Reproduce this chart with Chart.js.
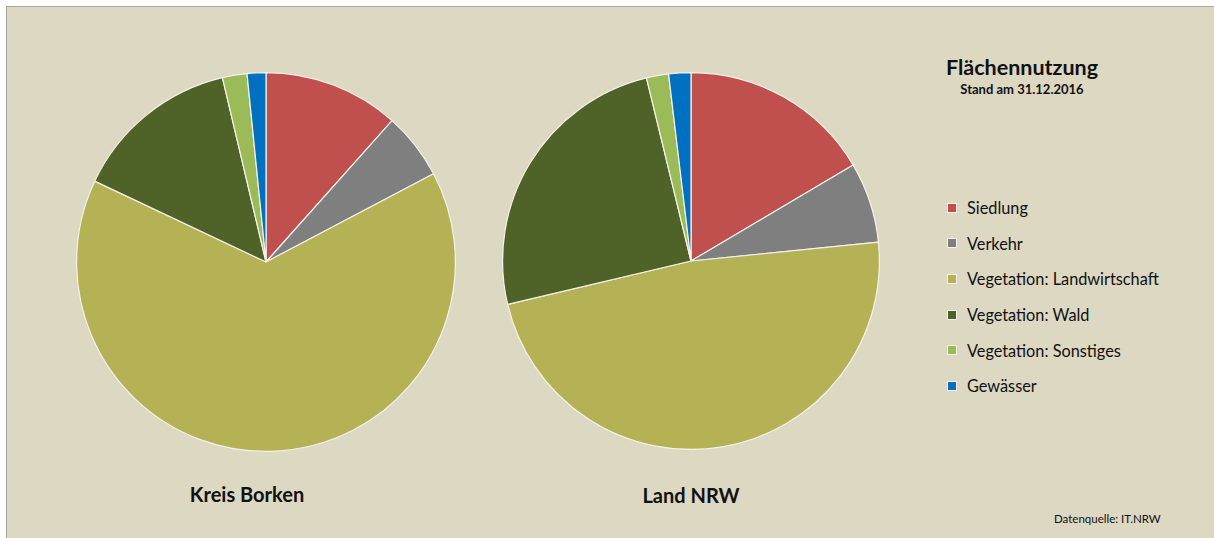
<!DOCTYPE html>
<html>
<head>
<meta charset="utf-8">
<script src="https://cdn.jsdelivr.net/npm/chart.js@4"></script>
<style>
  html, body { margin: 0; padding: 0; background: #fff; }
  #frame {
    position: absolute; left: 6px; top: 6px; width: 1208px; height: 532px;
    background: #ddd8c2; border-left: 1px solid #a8a69c; border-top: 1px solid #a8a69c;
    font-family: Lato, "Open Sans", sans-serif; color: #111;
  }
  .pie { position: absolute; }
  .lbl { position: absolute; font-weight: bold; font-size: 20px; text-align: center; }
  #legend { position: absolute; left: 940px; top: 183px; list-style: none; margin: 0; padding: 0; }
  #legend li { height: 35.6px; font-size: 16.3px; display: flex; align-items: center; }
  #legend span.box { width: 10px; height: 10px; margin-right: 10px; border: 1px solid #f4f2ea; box-sizing: border-box; }
</style>
</head>
<body>
<div id="frame">
  <div class="pie" style="left:69px;top:65px;width:380px;height:380px"><canvas id="borken"></canvas></div>
  <div class="pie" style="left:495px;top:65px;width:378px;height:378px"><canvas id="nrw"></canvas></div>
  <div class="lbl" style="left:140px;top:475px;width:200px">Kreis Borken</div>
  <div class="lbl" style="left:584px;top:476px;width:200px">Land NRW</div>
  <div class="lbl" style="left:915px;top:47px;width:200px;font-size:21.5px">Flächennutzung</div>
  <div class="lbl" style="left:915px;top:74px;width:200px;font-size:13px">Stand am 31.12.2016</div>
  <ul id="legend"></ul>
  <div style="position:absolute;left:1047px;top:505px;font-size:11.5px">Datenquelle: IT.NRW</div>
</div>
<script>
const categories = [
  "Siedlung",
  "Verkehr",
  "Vegetation: Landwirtschaft",
  "Vegetation: Wald",
  "Vegetation: Sonstiges",
  "Gewässer",
];
// shares in percent
const borkenValues = [11.6, 5.7, 64.8, 14.3, 2.1, 1.6];
const nrwValues = [16.5, 6.9, 47.9, 24.9, 1.9, 1.9];
const colors = ["#c0504d", "#7f7f7f", "#b5b256", "#4f6228", "#9bbb59", "#0070c0"];

function makePie(id, values) {
  const ctx = document.getElementById(id).getContext("2d");
  return new Chart(ctx, {
    type: "pie",
    data: {
      labels: categories,
      datasets: [
        {
          data: values,
          backgroundColor: colors,
          borderColor: "#f4f2ea",
          borderWidth: 1.2,
        },
      ],
    },
    options: {
      responsive: true,
      maintainAspectRatio: false,
      animation: false,
      layout: { padding: 0 },
      plugins: {
        legend: { display: false },
        tooltip: { enabled: false },
      },
    },
  });
}

makePie("borken", borkenValues);
makePie("nrw", nrwValues);

const legend = document.getElementById("legend");
categories.forEach((c, i) => {
  const li = document.createElement("li");
  li.innerHTML = '<span class="box" style="background:' + colors[i] + '"></span>' + c;
  legend.appendChild(li);
});
</script>
</body>
</html>
